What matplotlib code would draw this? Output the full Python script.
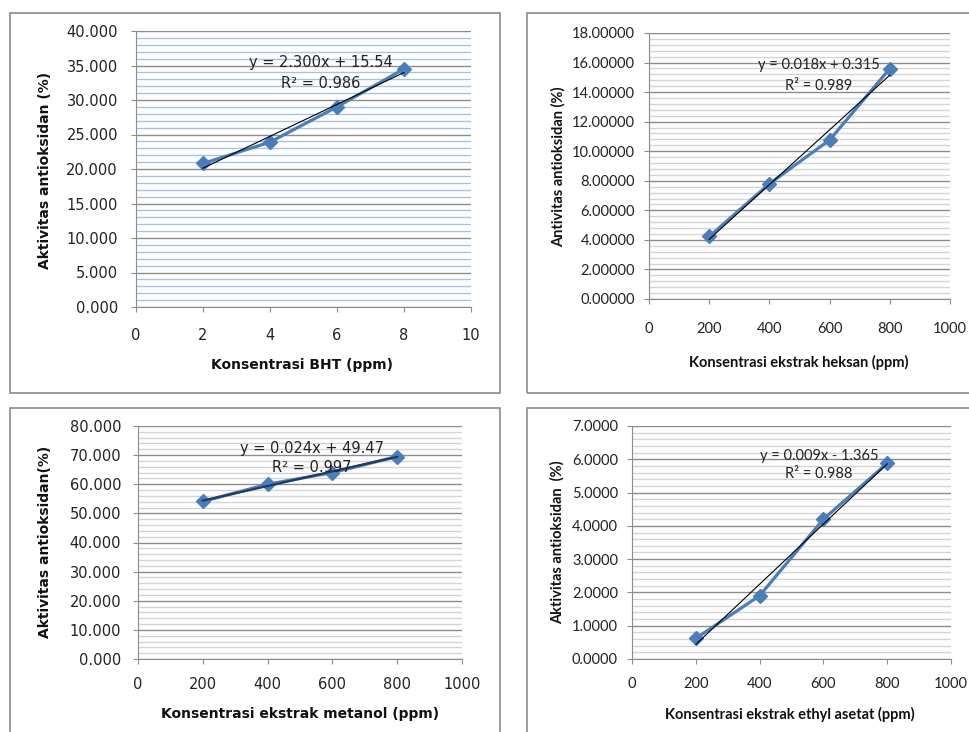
import numpy as np
import matplotlib.pyplot as plt
from matplotlib.patches import Rectangle
from matplotlib.ticker import MultipleLocator, FormatStrFormatter

W, H = 970, 732

# data
conc_bht = [2, 4, 6, 8]
act_bht = [20.8, 23.9, 29.0, 34.5]
conc_ext = [200, 400, 600, 800]
act_heksan = [4.23, 7.80, 10.76, 15.59]
act_metanol = [54.1, 60.0, 64.0, 69.5]
act_etil = [0.62, 1.90, 4.20, 5.88]

eq_bht = ["y = 2.300x + 15.54", "R² = 0.986"]
eq_heksan = ["y = 0.018x + 0.315", "R² = 0.989"]
eq_metanol = ["y = 0.024x + 49.47", "R² = 0.997"]
eq_etil = ["y = 0.009x - 1.365", "R² = 0.988"]

BLUE = '#4a7ebb'
GRID = '#8c8c8c'
MINOR = '#d4d4d4'

fig = plt.figure(figsize=(W / 100, H / 100), dpi=100)
fig.patch.set_facecolor('white')


def box(x0, y0, x1, y1):
    fig.patches.append(Rectangle((x0 / W, 1 - y1 / H), (x1 - x0) / W, (y1 - y0) / H,
                                 transform=fig.transFigure, fill=False,
                                 ec='#8a8a8a', lw=1.2))


def ftext(x, y, s, **kw):
    fig.text(x / W, 1 - y / H, s, **kw)


def panel(area, xs, ys, xmax, xstep, ymax, ystep, fmt, font, xpad, ypad,
          minor_col=MINOR, trend_col='black', trend_lw=0.8):
    l, t, r, b = area
    ax = fig.add_axes([l / W, 1 - b / H, (r - l) / W, (b - t) / H])
    ax.plot(xs, ys, color=BLUE, lw=2.3, marker='D', ms=7.5, zorder=3)
    k, c = np.polyfit(xs, ys, 1)
    xf = np.array([xs[0], xs[-1]])
    ax.plot(xf, k * xf + c, color=trend_col, lw=trend_lw, zorder=4)
    ax.set_xlim(0, xmax)
    ax.set_ylim(0, ymax)
    ax.xaxis.set_major_locator(MultipleLocator(xstep))
    ax.yaxis.set_major_locator(MultipleLocator(ystep))
    ax.yaxis.set_minor_locator(MultipleLocator(ystep / 5))
    ax.yaxis.set_major_formatter(FormatStrFormatter(fmt))
    ax.grid(True, which='minor', axis='y', color=minor_col, lw=1.0)
    ax.grid(True, which='major', axis='y', color=GRID, lw=1.0)
    ax.set_axisbelow(True)
    for s in ('top', 'right'):
        ax.spines[s].set_visible(False)
    for s in ('left', 'bottom'):
        ax.spines[s].set_color(GRID)
    ax.tick_params(which='major', direction='out', length=3.6, color=GRID,
                   labelsize=10.5, labelcolor='#222222')
    ax.tick_params(which='minor', length=0)
    ax.tick_params(axis='x', pad=xpad)
    ax.tick_params(axis='y', pad=ypad)
    for lab in ax.get_xticklabels() + ax.get_yticklabels():
        lab.set_family(font)
    return ax


# frames of the four chart areas
box(10, 13, 500, 393)
box(527, 13, 975, 393)
box(10, 408, 500, 740)
box(527, 408, 975, 740)

panel((136, 31, 471, 307), conc_bht, act_bht, 10, 2, 40, 5, '%.3f',
      'DejaVu Sans', 11.5, 9.4, minor_col='#a9c1e3')
panel((649, 33, 950, 299), conc_ext, act_heksan, 1000, 200, 18, 2, '%.5f',
      'Lato', 13, 6.5)
panel((138, 426, 462, 659), conc_ext, act_metanol, 1000, 200, 80, 10, '%.3f',
      'DejaVu Sans', 9.4, 8.6, trend_col='#1f3a66', trend_lw=1.6)
panel((632, 426, 951, 659), conc_ext, act_etil, 1000, 200, 7, 1, '%.4f',
      'Lato', 9.4, 6.5)

# trendline equations
for (x, y1, y2), eq, fam in [((321, 63, 83), eq_bht, 'DejaVu Sans'),
                             ((819, 65, 86), eq_heksan, 'Lato'),
                             ((312, 448, 467), eq_metanol, 'DejaVu Sans'),
                             ((819, 456, 474), eq_etil, 'Lato')]:
    ftext(x, y1, eq[0], ha='center', va='center', fontsize=10.5, family=fam, color='#222222')
    ftext(x, y2, eq[1], ha='center', va='center', fontsize=10.5, family=fam, color='#222222')

# axis titles
lab = dict(ha='center', va='center', fontweight='bold', color='#111111')
ftext(302, 365, 'Konsentrasi BHT (ppm)', fontsize=10, family='DejaVu Sans', **lab)
ftext(45, 170, 'Aktivitas antioksidan (%)', rotation=90, fontsize=10, family='DejaVu Sans', **lab)
ftext(799, 362, 'Konsentrasi ekstrak heksan (ppm)', fontsize=10.5, family='Lato', **lab)
ftext(558, 167, 'Antivitas antioksidan (%)', rotation=90, fontsize=10.5, family='Lato', **lab)
ftext(300, 714, 'Konsentrasi ekstrak metanol (ppm)', fontsize=10, family='DejaVu Sans', **lab)
ftext(45, 542, 'Aktivitas antioksidan(%)', rotation=90, fontsize=10, family='DejaVu Sans', **lab)
ftext(790, 714, 'Konsentrasi ekstrak ethyl asetat (ppm)', fontsize=10.5, family='Lato', **lab)
ftext(557, 542, 'Aktivitas antioksidan  (%)', rotation=90, fontsize=10.5, family='Lato', **lab)

fig.savefig('out.png', dpi=100)
